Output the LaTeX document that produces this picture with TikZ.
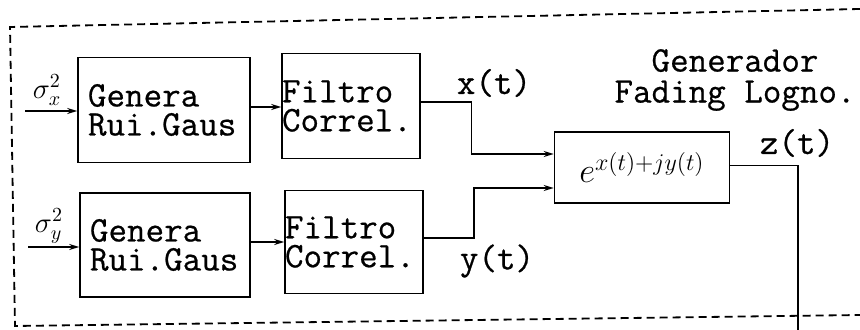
\documentclass[tikz,border=0pt]{standalone}
\usepackage{fontspec}
\setmonofont{Latin Modern Mono}[FakeBold=0.6]
\usetikzlibrary{arrows.meta}
\begin{document}
\begin{tikzpicture}[x=0.5pt,y=-0.5pt,
  every node/.style={font=\ttfamily\fontsize{18}{14.5}\selectfont},
  blk/.style={draw,line width=0.8pt,align=left,inner ysep=0pt},
  arr/.style={line width=0.8pt,-{Stealth[length=5pt,width=3pt]}},
  wire/.style={line width=0.8pt},
  frame/.style={line width=0.9pt,dash pattern=on 4pt off 2.5pt},
  lbl/.style={inner sep=0pt},
  mth/.style={inner sep=0pt,font=\fontsize{14}{16}\selectfont}]
\useasboundingbox (0,0) rectangle (860,330);
% dashed frame
\draw[frame] (860,9) -- (10,27) -- (15,326) -- (860,315);
% blocks
\node[blk,minimum width=86pt,minimum height=52.5pt,text width=76pt,inner xsep=5pt] (g1) at (164,110) {Genera\\Rui.Gaus};
\node[blk,minimum width=69pt,minimum height=52.5pt,text width=69pt,inner xsep=0pt] (f1) at (351,106) {Filtro\\Correl.};
\node[blk,minimum width=85pt,minimum height=52pt,text width=75pt,inner xsep=5pt] (g2) at (165,245) {Genera\\Rui.Gaus};
\node[blk,minimum width=69pt,minimum height=51.5pt,text width=69pt,inner xsep=0pt] (f2) at (354,242) {Filtro\\Correl.};
\node[draw,line width=0.8pt,minimum width=87.5pt,minimum height=35.5pt,inner sep=0pt,font=\fontsize{17}{18}\selectfont] (e) at (642,167.5) {$e^{x(t)+jy(t)}$};
% inputs
\coordinate (sx) at (25,111);
\coordinate (sy) at (28,247);
\node[mth] (lsx) at (47,90) {$\sigma_x^2$};
\node[mth] (lsy) at (49,226) {$\sigma_y^2$};
\draw[arr] (sx) -- ([yshift=-0.5pt]g1.west);
\draw[arr] (sy) -- ([yshift=-1pt]g2.west);
\draw[arr] (g1.east |- 0,107) -- (f1.west |- 0,107);
\draw[arr] (g2.east |- 0,242) -- (f2.west |- 0,242);
% to exp block
\draw[arr] ([yshift=2pt]f1.east) -- ++(50.5,0) |- ([yshift=6.75pt]e.west);
\draw[arr] ([yshift=2pt]f2.east) -- ++(50,0) |- ([yshift=-10.25pt]e.west);
\coordinate (zend) at (798,330);
\draw[wire] ([yshift=1pt]e.east) -| (zend);
% labels
\node[lbl] (lx) at (494,83) {x(t)};
\node[lbl] (ly) at (497,261) {y(t)};
\node[lbl] (lz) at (797,143) {z(t)};
\node[lbl,align=center,font=\ttfamily\fontsize{18}{15.5}\selectfont] (title) at (735,80) {Generador\\Fading Logno.};
\end{tikzpicture}
\end{document}
